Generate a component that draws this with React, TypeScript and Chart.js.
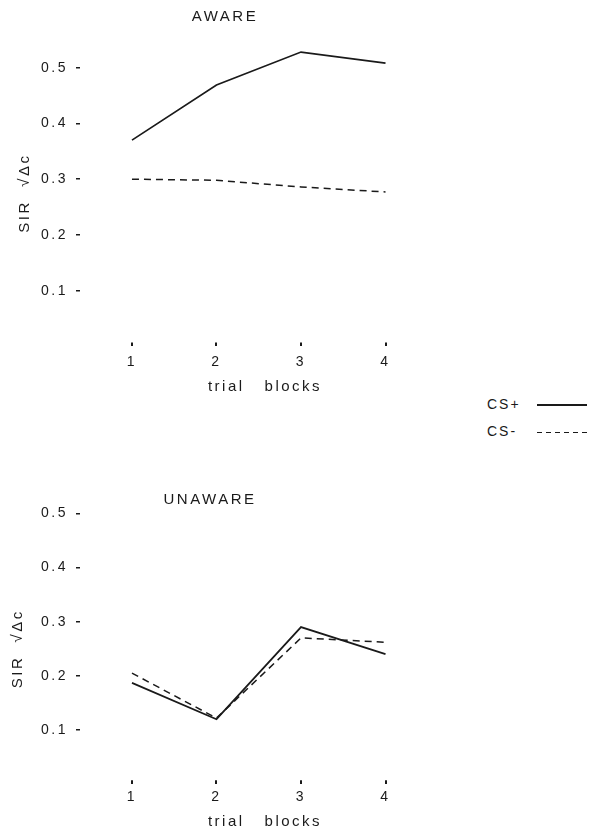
import React, { useEffect, useRef } from "react";
import { Chart, registerables } from "chart.js";

Chart.register(...registerables);

// ---- data ----
const trialBlocks = [1, 2, 3, 4];
const awareCSplus = [0.37, 0.469, 0.528, 0.508];
const awareCSminus = [0.3, 0.298, 0.286, 0.277];
const unawareCSplus = [0.187, 0.12, 0.29, 0.24];
const unawareCSminus = [0.205, 0.122, 0.27, 0.262];
const yTickValues = [0.1, 0.2, 0.3, 0.4, 0.5];
const seriesLabels = ["CS+", "CS-"];
const panelTitles = ["AWARE", "UNAWARE"];
const xAxisTitle = "trial   blocks";
const yAxisTitle = "SIR  √Δc";

const FONT = "'Liberation Sans', Arial, sans-serif";
const INK = "#1a1a1a";
const X_MIN = 0.385;
const X_MAX = 4.763;

type Geom = {
  left: number;
  top: number;
  width: number;
  height: number;
  rightPad: number;
  yMax: number;
  titlePadTop: number;
  titlePadBottom: number;
  xAxisHeight: number;
  yAxisWidth: number;
  yTitlePad: number;
  xTickPad: number;
};

const topGeom: Geom = {
  left: 0,
  top: 0,
  width: 470,
  height: 396,
  rightPad: 20,
  yMax: 0.55,
  titlePadTop: 8,
  titlePadBottom: 13.8,
  xAxisHeight: 49.6,
  yAxisWidth: 80,
  yTitlePad: 16,
  xTickPad: 11.4,
};

const bottomGeom: Geom = {
  left: -30,
  top: 470,
  width: 500,
  height: 361,
  rightPad: 20,
  yMax: 0.5,
  titlePadTop: 21,
  titlePadBottom: 4.3,
  xAxisHeight: 46.8,
  yAxisWidth: 110,
  yTitlePad: 39,
  xTickPad: 9,
};

const spacingPlugin = {
  id: "letterSpacing",
  beforeDraw(chart: any) {
    (chart.ctx as any).letterSpacing = "2.5px";
  },
};

function makeConfig(title: string, plus: number[], minus: number[], g: Geom): any {
  return {
    type: "line",
    data: {
      datasets: [
        {
          label: seriesLabels[0],
          data: trialBlocks.map((x, i) => ({ x, y: plus[i] })),
          borderColor: INK,
          borderWidth: 1.7,
          pointRadius: 0,
          tension: 0,
          fill: false,
        },
        {
          label: seriesLabels[1],
          data: trialBlocks.map((x, i) => ({ x, y: minus[i] })),
          borderColor: INK,
          borderWidth: 1.5,
          borderDash: [7, 5],
          pointRadius: 0,
          tension: 0,
          fill: false,
        },
      ],
    },
    options: {
      animation: false,
      responsive: false,
      maintainAspectRatio: false,
      devicePixelRatio: 1,
      layout: { padding: { left: 0, right: g.rightPad, top: 0, bottom: 0 } },
      plugins: {
        legend: { display: false },
        tooltip: { enabled: false },
        title: {
          display: true,
          text: title,
          color: INK,
          font: { family: FONT, size: 15, weight: "normal", lineHeight: 1.2 },
          padding: { top: g.titlePadTop, bottom: g.titlePadBottom },
        },
      },
      scales: {
        x: {
          type: "linear",
          min: X_MIN,
          max: X_MAX,
          afterBuildTicks: (s: any) => {
            s.ticks = trialBlocks.map((v) => ({ value: v }));
          },
          afterFit: (s: any) => {
            s.height = g.xAxisHeight;
          },
          grid: {
            display: true,
            drawOnChartArea: false,
            drawTicks: true,
            tickLength: -4,
            color: INK,
            lineWidth: 2,
          },
          border: { display: false },
          ticks: {
            padding: g.xTickPad,
            color: INK,
            autoSkip: false,
            maxRotation: 0,
            font: { family: FONT, size: 14 },
            callback: (v: any) => String(v),
          },
          title: {
            display: true,
            text: xAxisTitle,
            color: INK,
            font: { family: FONT, size: 15, lineHeight: 1.2 },
            padding: { top: 0, bottom: 0 },
          },
        },
        y: {
          type: "linear",
          min: 0,
          max: g.yMax,
          afterBuildTicks: (s: any) => {
            s.ticks = yTickValues.map((v) => ({ value: v }));
          },
          afterFit: (s: any) => {
            s.width = g.yAxisWidth;
          },
          grid: {
            display: true,
            drawOnChartArea: false,
            drawTicks: true,
            tickLength: 4,
            color: INK,
            lineWidth: 1.5,
          },
          border: { display: false },
          ticks: {
            padding: 8,
            color: INK,
            font: { family: FONT, size: 14 },
            callback: (v: any) => Number(v).toFixed(1),
          },
          title: {
            display: true,
            text: yAxisTitle,
            color: INK,
            font: { family: FONT, size: 15, lineHeight: 1.2 },
            padding: { top: g.yTitlePad, bottom: 0 },
          },
        },
      },
    },
    plugins: [spacingPlugin],
  };
}

function Panel({ title, plus, minus, g }: { title: string; plus: number[]; minus: number[]; g: Geom }) {
  const ref = useRef<HTMLCanvasElement | null>(null);
  useEffect(() => {
    if (!ref.current) return;
    const chart = new Chart(ref.current, makeConfig(title, plus, minus, g));
    return () => chart.destroy();
  }, [title, plus, minus, g]);
  return (
    <canvas
      ref={ref}
      width={g.width}
      height={g.height}
      style={{ position: "absolute", left: g.left, top: g.top, width: g.width, height: g.height }}
    />
  );
}

function Legend() {
  const textStyle: React.CSSProperties = {
    position: "absolute",
    left: 0,
    fontFamily: FONT,
    fontSize: 14,
    letterSpacing: "2px",
    color: INK,
    lineHeight: "16px",
  };
  return (
    <div style={{ position: "absolute", left: 487, top: 396, width: 106, height: 50 }}>
      <div style={{ ...textStyle, top: 0 }}>{seriesLabels[0]}</div>
      <div
        style={{ position: "absolute", left: 50, top: 8, width: 50, height: 1.6, background: INK }}
      />
      <div style={{ ...textStyle, top: 27 }}>{seriesLabels[1]}</div>
      <div
        style={{
          position: "absolute",
          left: 50,
          top: 36,
          width: 50,
          height: 1.4,
          background: `repeating-linear-gradient(to right, ${INK} 0 5px, transparent 5px 9px)`,
        }}
      />
    </div>
  );
}

export default function App() {
  return (
    <div
      style={{
        position: "fixed",
        left: 0,
        top: 0,
        width: 593,
        height: 828,
        overflow: "hidden",
        background: "#fff",
      }}
    >
      <Panel title={panelTitles[0]} plus={awareCSplus} minus={awareCSminus} g={topGeom} />
      <Panel title={panelTitles[1]} plus={unawareCSplus} minus={unawareCSminus} g={bottomGeom} />
      <Legend />
    </div>
  );
}
